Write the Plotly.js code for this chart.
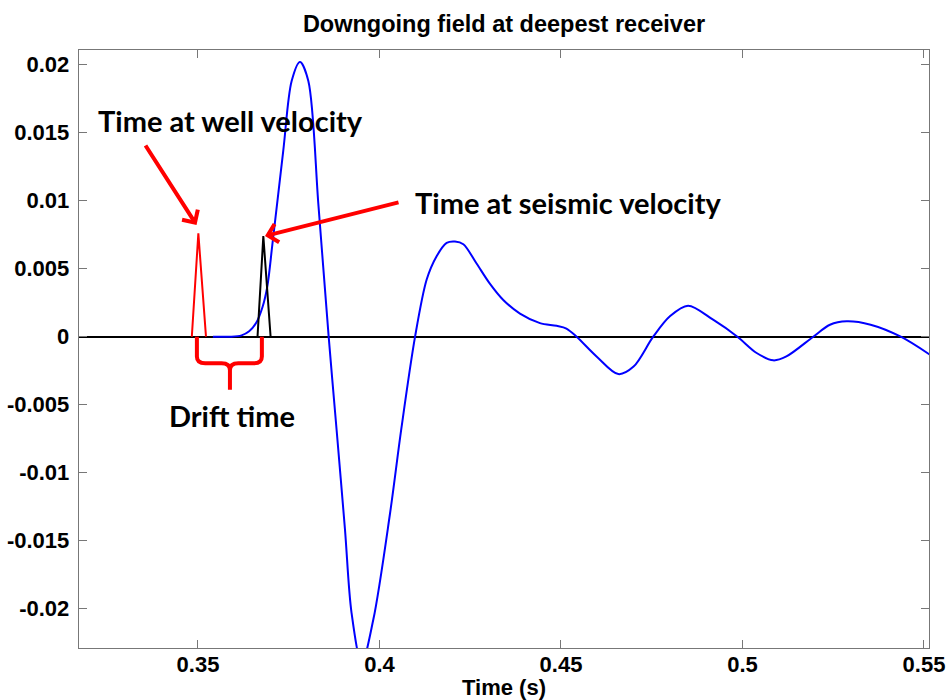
<!DOCTYPE html>
<html>
<head>
<meta charset="utf-8">
<script src="https://cdn.plot.ly/plotly-3.0.1.min.js"></script>
<style>html,body{margin:0;padding:0;background:#fff;}#chart{width:949px;height:700px;}</style>
</head>
<body>
<div id="chart"></div>
<script>
// Downgoing field (blue)
const timeDown = [0.3541, 0.3590, 0.3620, 0.3641, 0.3660, 0.3678, 0.3691, 0.3705, 0.3735, 0.3758, 0.3781, 0.3804, 0.3832, 0.3860, 0.3882, 0.3905, 0.3923, 0.3951, 0.3983, 0.4029, 0.4060, 0.4098, 0.4130, 0.4157, 0.4185, 0.4208, 0.4231, 0.4267, 0.4304, 0.4341, 0.4387, 0.4442, 0.4488, 0.4515, 0.4543, 0.4598, 0.4658, 0.4700, 0.4754, 0.4800, 0.4850, 0.4919, 0.4986, 0.5039, 0.5085, 0.5121, 0.5195, 0.5241, 0.5287, 0.5353, 0.5436, 0.5516];
const ampDown = [0, 0, 0.0001, 0.0004, 0.0010, 0.0022, 0.0037, 0.0068, 0.0137, 0.0188, 0.0202, 0.0188, 0.0096, 0.0, -0.0069, -0.0142, -0.0203, -0.0240, -0.0208, -0.0130, -0.0068, 0.0, 0.0042, 0.0059, 0.0069, 0.0070, 0.0068, 0.0054, 0.0039, 0.0027, 0.0017, 0.0010, 0.0008, 0.0006, 0, -0.00145, -0.00275, -0.0022, 0, 0.0015, 0.00228, 0.00125, 0, -0.0012, -0.00174, -0.00145, 0, 0.00088, 0.00113, 0.00088, 0, -0.00132];

// Spike at well-velocity time (red)
const timeWell = [0.3483, 0.3501, 0.3522];
const ampWell = [0, 0.0076, 0];

// Spike at seismic-velocity time (black)
const timeSeis = [0.3664, 0.3680, 0.3700];
const ampSeis = [0, 0.0074, 0];

// Tick labels
const xTickVals = [0.35, 0.4, 0.45, 0.5, 0.55];
const xTickText = ["0.35", "0.4", "0.45", "0.5", "0.55"];
const yTickVals = [-0.02, -0.015, -0.01, -0.005, 0, 0.005, 0.01, 0.015, 0.02];
const yTickText = ["-0.02", "-0.015", "-0.01", "-0.005", "0", "0.005", "0.01", "0.015", "0.02"];

const axisFont = {family: "Liberation Sans, Arial, sans-serif", size: 22, color: "#000", weight: "bold"};
const noteFont = {family: "Lato, Carlito, sans-serif", size: 29, color: "#000", weight: "bold"};
const RED = "#ff0000";

const traces = [
  {x: timeDown, y: ampDown, type: "scatter", mode: "lines", line: {color: "#0000ff", width: 2, shape: "spline", smoothing: 0.9}, hoverinfo: "skip"},
  {x: timeWell, y: ampWell, type: "scatter", mode: "lines", line: {color: RED, width: 2}, hoverinfo: "skip"},
  {x: timeSeis, y: ampSeis, type: "scatter", mode: "lines", line: {color: "#000", width: 2}, hoverinfo: "skip"}
];

// Brace under the drift interval (data coords)
const bx0 = 0.3497, bx1 = 0.3676, bm = 0.3588;
const by0 = 0, by1 = -0.00196, byTip = -0.0039;
const bk = 0.0023; // corner width (time)
const bracePath =
  `M${bx0},${by0} L${bx0},${by1 + 0.0005} Q${bx0},${by1} ${bx0 + bk},${by1} L${bm - bk},${by1} Q${bm},${by1} ${bm},${by1 - 0.0005} L${bm},${byTip}` +
  ` M${bm},${by1 - 0.0005} Q${bm},${by1} ${bm + bk},${by1} L${bx1 - bk},${by1} Q${bx1},${by1} ${bx1},${by1 + 0.0005} L${bx1},${by0}`;

const layout = {
  width: 949, height: 700,
  margin: {l: 79, r: 20, t: 50, b: 52},
  paper_bgcolor: "#fff", plot_bgcolor: "#fff",
  showlegend: false,
  title: {text: "Downgoing field at deepest receiver", x: 0.5, xref: "paper", xanchor: "center", y: 0.966, yref: "container", yanchor: "middle",
          font: {family: "Liberation Sans, Arial, sans-serif", size: 23.5, color: "#000", weight: "bold"}},
  xaxis: {range: [0.31722, 0.55138], tickvals: xTickVals, ticktext: xTickText, ticks: "inside", ticklen: 8, tickwidth: 1, tickcolor: "#777",
          showline: true, linecolor: "#777", linewidth: 1.3, mirror: "ticks", showgrid: false, zeroline: false,
          tickfont: axisFont, ticklabelstandoff: -4,
          title: {text: "Time (s)", font: axisFont, standoff: 3}},
  yaxis: {range: [-0.02289, 0.02108], tickvals: yTickVals, ticktext: yTickText, ticks: "inside", ticklen: 8, tickwidth: 1, tickcolor: "#777",
          showline: true, linecolor: "#777", linewidth: 1.3, mirror: "ticks", showgrid: false,
          zeroline: true, zerolinecolor: "#000", zerolinewidth: 1.8,
          tickfont: axisFont, ticklabelstandoff: 4},
  shapes: [
    {type: "path", xref: "x", yref: "y", path: bracePath, line: {color: RED, width: 4}}
  ],
  annotations: [
    {x: 0.3496, y: 0.00821, xref: "x", yref: "y", text: "", showarrow: true, arrowhead: 4, arrowsize: 0.9, arrowwidth: 4, arrowcolor: RED, ax: -52, ay: -81, standoff: 0},
    {x: 0.36846, y: 0.0074, xref: "x", yref: "y", text: "", showarrow: true, arrowhead: 4, arrowsize: 0.9, arrowwidth: 4, arrowcolor: RED, ax: 135, ay: -34, standoff: 0},
    {x: 0.3219, y: 0.01593, xref: "x", yref: "y", text: "Time at well velocity", showarrow: false, xanchor: "left", yanchor: "middle", font: noteFont},
    {x: 0.40923, y: 0.0099, xref: "x", yref: "y", text: "Time at seismic velocity", showarrow: false, xanchor: "left", yanchor: "middle", font: noteFont},
    {x: 0.34146, y: -0.00576, xref: "x", yref: "y", text: "Drift time", showarrow: false, xanchor: "left", yanchor: "middle", font: noteFont}
  ]
};

Plotly.newPlot("chart", traces, layout, {staticPlot: true, displayModeBar: false});
</script>
</body>
</html>
